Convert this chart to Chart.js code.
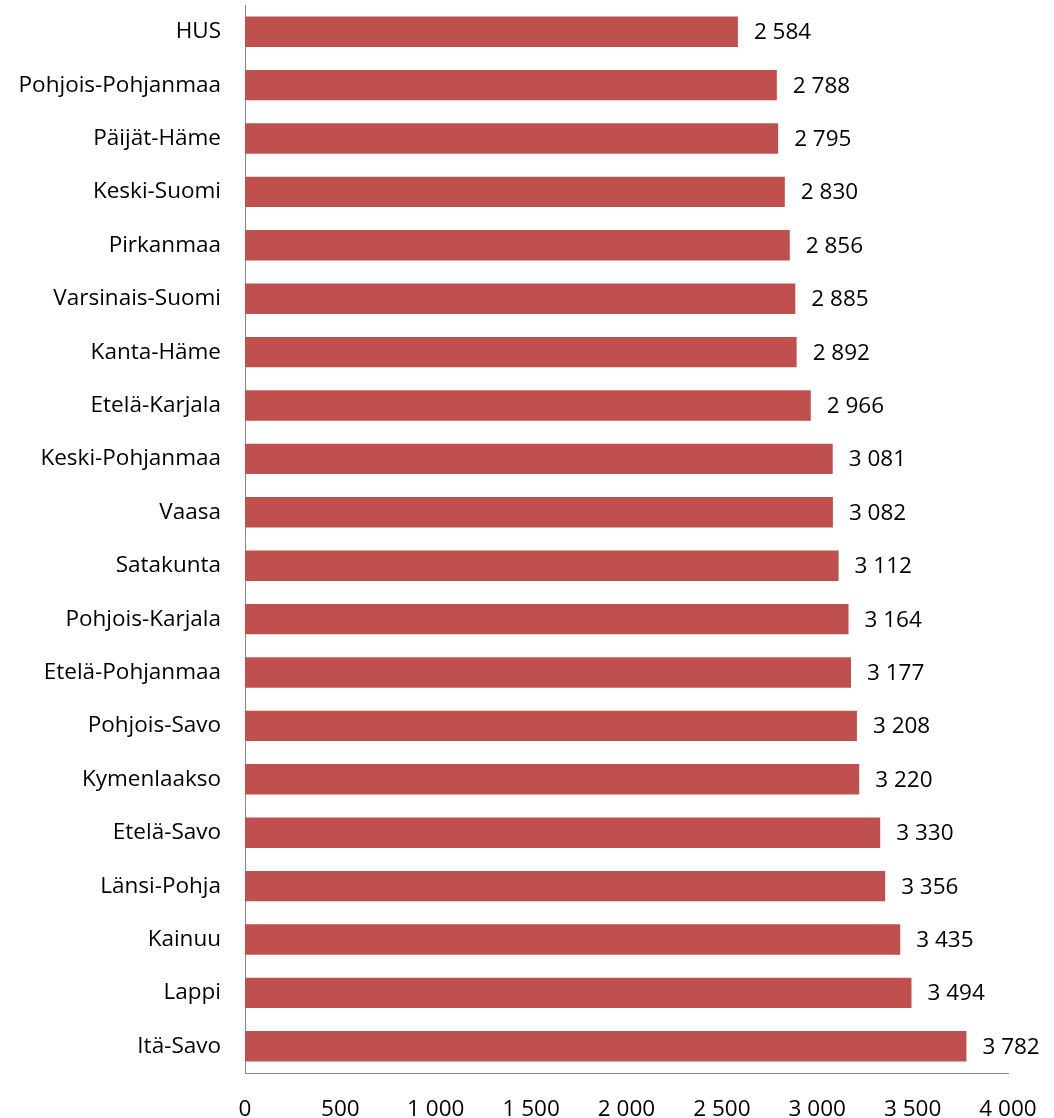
<!DOCTYPE html>
<html>
<head>
<meta charset="utf-8">
<script src="https://cdn.jsdelivr.net/npm/chart.js@4.4.0/dist/chart.umd.min.js"></script>
<style>
  html, body { margin: 0; padding: 0; background: #fff; }
  #wrap { width: 1054px; height: 1118px; }
</style>
</head>
<body>
<div id="wrap"><canvas id="chart"></canvas></div>
<script>
const regions = ['HUS', 'Pohjois-Pohjanmaa', 'Päijät-Häme', 'Keski-Suomi', 'Pirkanmaa',
    'Varsinais-Suomi', 'Kanta-Häme', 'Etelä-Karjala', 'Keski-Pohjanmaa', 'Vaasa',
    'Satakunta', 'Pohjois-Karjala', 'Etelä-Pohjanmaa', 'Pohjois-Savo', 'Kymenlaakso',
    'Etelä-Savo', 'Länsi-Pohja', 'Kainuu', 'Lappi', 'Itä-Savo'];
const values = [2584, 2788, 2795, 2830, 2856, 2885, 2892, 2966, 3081, 3082,
    3112, 3164, 3177, 3208, 3220, 3330, 3356, 3435, 3494, 3782];
const xTicks = [0, 500, 1000, 1500, 2000, 2500, 3000, 3500, 4000];

const FONT = "'Open Sans', sans-serif";
const FONT_SIZE = 22.5;

// thousands with a space, like "3 782"
function fmt(v) {
    return String(v).replace(/\B(?=(\d{3})+(?!\d))/g, ' ');
}

// draws the value next to each bar
const valueLabels = {
    id: 'valueLabels',
    afterDatasetsDraw(chart) {
        const ctx = chart.ctx;
        const meta = chart.getDatasetMeta(0);
        ctx.save();
        ctx.font = FONT_SIZE + 'px ' + FONT;
        ctx.fillStyle = '#000';
        ctx.textAlign = 'left';
        ctx.textBaseline = 'middle';
        meta.data.forEach((bar, i) => {
            ctx.fillText(fmt(values[i]), bar.x + 16, bar.y + 1);
        });
        ctx.restore();
    }
};

const ctx = document.getElementById('chart').getContext('2d');
new Chart(ctx, {
    type: 'bar',
    data: {
        labels: regions,
        datasets: [{
            data: values,
            backgroundColor: '#C0504D',
            categoryPercentage: 1,
            barPercentage: 0.57
        }]
    },
    options: {
        indexAxis: 'y',
        responsive: true,
        maintainAspectRatio: false,
        animation: false,
        layout: { padding: { top: 5, right: 46, left: 0, bottom: 0 } },
        plugins: {
            legend: { display: false },
            tooltip: { enabled: false }
        },
        scales: {
            x: {
                min: 0,
                max: 4000,
                afterBuildTicks(scale) {
                    scale.ticks = xTicks.map(v => ({ value: v }));
                },
                afterFit(scale) {
                    scale.height = 45;
                    scale.paddingLeft = 0;
                    scale.paddingRight = 0;
                },
                grid: { display: false },
                border: { display: true, color: '#868686', width: 1 },
                ticks: {
                    color: '#000',
                    padding: 15,
                    maxRotation: 0,
                    font: { family: FONT, size: FONT_SIZE },
                    callback: v => fmt(v)
                }
            },
            y: {
                afterFit(scale) {
                    scale.width = 245;
                    scale.paddingTop = 0;
                    scale.paddingBottom = 0;
                },
                grid: { display: false },
                border: { display: true, color: '#868686', width: 1 },
                ticks: {
                    color: '#000',
                    padding: 16,
                    font: { family: FONT, size: FONT_SIZE }
                }
            }
        }
    },
    plugins: [valueLabels]
});
</script>
</body>
</html>
